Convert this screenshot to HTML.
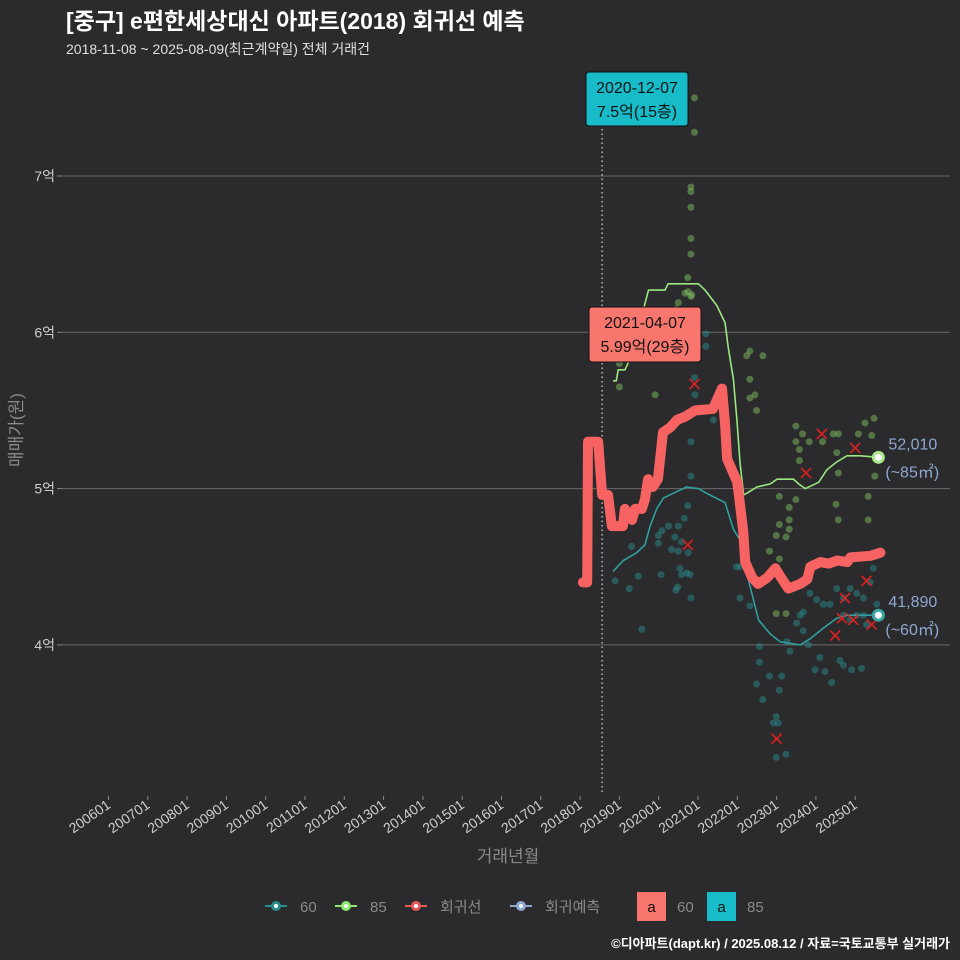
<!DOCTYPE html>
<html><head><meta charset="utf-8"><style>
html,body{margin:0;padding:0;background:#2b2a2c;}
svg{display:block;font-family:"Liberation Sans","Noto Sans CJK KR",sans-serif;}
</style></head><body>
<svg id="c" width="960" height="960" viewBox="0 0 960 960">
<rect x="0" y="0" width="960" height="960" fill="#2b2a2c"/>
<text x="66" y="29" fill="#ffffff" font-size="23" font-weight="bold">[중구] e편한세상대신 아파트(2018) 회귀선 예측</text>
<text x="66" y="54" fill="#e0e0e0" font-size="14">2018-11-08 ~ 2025-08-09(최근계약일) 전체 거래건</text>
<g id="grid"></g><g id="xaxis"></g><g id="series"></g><g id="ann"></g>
<text transform="translate(22,430) rotate(-90)" text-anchor="middle" fill="#8a8a8a" font-size="17">매매가(원)</text>
<text x="508" y="862" text-anchor="middle" fill="#8a8a8a" font-size="17">거래년월</text>
<g id="legend"></g>
<text x="950" y="948" text-anchor="end" fill="#ffffff" font-size="13" font-weight="bold">©디아파트(dapt.kr) / 2025.08.12 / 자료=국토교통부 실거래가</text>
</svg>
<script>
const yTicks=[4,5,6,7];
const xTickYears=[2006,2007,2008,2009,2010,2011,2012,2013,2014,2015,2016,2017,2018,2019,2020,2021,2022,2023,2024,2025];
const regLine=[[2018.07,4.40],[2018.18,4.40],[2018.20,5.30],[2018.46,5.30],[2018.56,4.96],[2018.71,4.96],[2018.81,4.76],[2019.09,4.76],[2019.14,4.87],[2019.32,4.80],[2019.40,4.87],[2019.57,4.87],[2019.65,4.93],[2019.73,5.06],[2019.85,5.01],[2019.98,5.06],[2020.11,5.36],[2020.29,5.39],[2020.47,5.44],[2020.67,5.46],[2020.92,5.50],[2021.38,5.51],[2021.61,5.64],[2021.69,5.41],[2021.74,5.19],[2022.00,5.04],[2022.15,4.73],[2022.20,4.53],[2022.38,4.43],[2022.53,4.39],[2022.76,4.43],[2022.97,4.49],[2023.09,4.44],[2023.30,4.36],[2023.60,4.39],[2023.78,4.42],[2023.86,4.50],[2024.11,4.53],[2024.32,4.52],[2024.55,4.54],[2024.80,4.53],[2024.88,4.56],[2025.39,4.57],[2025.64,4.59]];
const line85=[[2018.84,5.69],[2018.92,5.69],[2018.97,5.76],[2019.14,5.76],[2019.29,5.84],[2019.74,6.27],[2020.16,6.27],[2020.24,6.31],[2021.01,6.31],[2021.18,6.27],[2021.48,6.17],[2021.69,6.06],[2021.77,5.90],[2021.90,5.70],[2021.99,5.44],[2022.07,5.16],[2022.16,4.96],[2022.24,4.97],[2022.50,5.01],[2022.84,5.03],[2023.01,5.06],[2023.43,5.06],[2023.56,5.03],[2023.73,5.00],[2024.07,5.04],[2024.28,5.12],[2024.53,5.17],[2024.79,5.21],[2025.13,5.21],[2025.59,5.20]];
const line60=[[2018.84,4.47],[2019.10,4.54],[2019.44,4.59],[2019.65,4.64],[2019.78,4.76],[2019.95,4.87],[2020.12,4.94],[2020.37,4.97],[2020.71,5.01],[2021.01,5.00],[2021.22,4.97],[2021.69,4.91],[2021.90,4.74],[2022.07,4.67],[2022.20,4.50],[2022.37,4.33],[2022.54,4.16],[2022.84,4.07],[2023.09,4.02],[2023.60,4.00],[2023.86,4.04],[2024.20,4.11],[2024.53,4.17],[2024.79,4.19],[2025.59,4.19]];
const pts85=[[2020.91,7.50],[2020.91,7.28],[2020.82,6.93],[2020.82,6.90],[2020.82,6.80],[2020.82,6.60],[2020.82,6.50],[2020.74,6.35],[2020.75,6.26],[2020.67,6.25],[2020.84,6.24],[2020.82,6.23],[2020.50,6.19],[2020.44,6.15],[2019.00,5.80],[2019.00,5.65],[2019.91,5.60],[2022.24,5.85],[2022.32,5.88],[2022.65,5.85],[2022.32,5.70],[2022.32,5.58],[2022.45,5.60],[2022.49,5.50],[2023.49,5.40],[2023.66,5.35],[2023.49,5.30],[2023.58,5.25],[2023.83,5.30],[2023.58,5.18],[2024.17,5.30],[2024.44,5.35],[2024.57,5.35],[2025.08,5.35],[2025.25,5.42],[2025.48,5.45],[2025.42,5.34],[2024.53,5.23],[2024.57,5.10],[2025.50,5.08],[2025.33,4.95],[2023.07,4.95],[2023.49,4.93],[2023.32,4.88],[2024.51,4.90],[2024.57,4.80],[2025.33,4.80],[2023.07,4.77],[2023.32,4.80],[2022.99,4.70],[2023.24,4.69],[2023.32,4.74],[2022.82,4.60],[2023.07,4.55],[2022.99,4.20],[2023.24,4.20],[2022.09,4.76],[2022.11,4.74]];
const pts60=[[2020.82,5.30],[2020.82,5.08],[2020.74,4.89],[2020.65,4.81],[2020.50,4.76],[2020.25,4.76],[2020.08,4.73],[2019.99,4.70],[2020.41,4.69],[2019.99,4.65],[2020.58,4.66],[2020.33,4.61],[2020.50,4.60],[2020.75,4.59],[2019.31,4.63],[2018.89,4.41],[2019.25,4.36],[2019.48,4.44],[2019.57,4.10],[2020.06,4.45],[2020.54,4.49],[2020.71,4.46],[2020.58,4.45],[2020.80,4.45],[2020.48,4.37],[2020.44,4.35],[2020.82,4.30],[2021.20,5.91],[2021.20,5.99],[2020.91,5.71],[2020.92,5.60],[2021.39,5.44],[2021.98,4.50],[2022.07,4.50],[2022.07,4.30],[2022.32,4.25],[2022.56,3.99],[2022.56,3.89],[2022.82,3.80],[2022.49,3.75],[2022.65,3.65],[2023.07,3.71],[2023.13,3.80],[2022.99,3.54],[2022.92,3.50],[2023.04,3.50],[2022.99,3.28],[2023.24,3.30],[2023.34,3.96],[2023.26,4.02],[2023.51,4.14],[2023.60,4.19],[2023.68,4.21],[2023.85,4.33],[2024.02,4.29],[2024.19,4.26],[2024.36,4.26],[2024.53,4.36],[2024.70,4.30],[2024.87,4.36],[2025.04,4.33],[2025.21,4.30],[2025.38,4.40],[2025.46,4.49],[2025.55,4.26],[2025.04,4.19],[2025.21,4.19],[2025.29,4.13],[2024.87,4.16],[2024.70,4.19],[2024.10,3.92],[2024.23,3.83],[2024.40,3.76],[2024.61,3.90],[2024.70,3.87],[2024.91,3.84],[2025.16,3.85],[2023.98,3.84],[2023.81,4.00],[2023.68,4.09]];
const xMarks=[[2020.91,5.67],[2020.74,4.64],[2023.00,3.40],[2023.75,5.10],[2024.15,5.35],[2025.00,5.26],[2024.74,4.30],[2024.49,4.06],[2024.66,4.17],[2024.95,4.16],[2025.42,4.13],[2025.29,4.41]];
const endLabels=[["52,010","(~85㎡)",5.20,"#a6e88a"],["41,890","(~60㎡)",4.19,"#3aa7a7"]];
const refDate=2018.56;

const NS="http://www.w3.org/2000/svg";
const X=t=>108.5+(t-2006)*39.3;
const Y=v=>176+(7-v)*156.3;
function mk(tag,attrs,parent,txt){const e=document.createElementNS(NS,tag);for(const k in attrs)e.setAttribute(k,attrs[k]);if(txt!==undefined)e.textContent=txt;parent.appendChild(e);return e;}
const grid=document.getElementById('grid'),xa=document.getElementById('xaxis'),se=document.getElementById('series'),an=document.getElementById('ann'),lg=document.getElementById('legend');
yTicks.forEach(v=>{
 const l=mk('line',{x1:62,x2:950,y1:Y(v),y2:Y(v),stroke:'#6a6a6a','stroke-width':1},grid);
 
 
 mk('line',{x1:57,x2:62,y1:Y(v),y2:Y(v),stroke:'#8a8a8a'},grid);
 const t=mk('text',{x:55,y:Y(v)+5,'text-anchor':'end',fill:'#cfcfcf','font-size':14},grid,v+'억');
 
 
});
xTickYears.forEach(yr=>{
 const x=X(yr);
 mk('line',{x1:x,x2:x,y1:796,y2:800,stroke:'#8a8a8a'},xa);
 const t=mk('text',{transform:`translate(${x+3},${807}) rotate(-35)`,'text-anchor':'end',fill:'#cfcfcf','font-size':14},xa,String(yr)+'01');
 
 
});
const dl=mk('line',{x1:X(refDate),x2:X(refDate),y1:120,y2:795,stroke:'#cccccc','stroke-width':1.3,'stroke-dasharray':'1.5,3'},se);


const path=a=>a.map((p,i)=>(i?'L':'M')+X(p[0]).toFixed(1)+','+Y(p[1]).toFixed(1)).join('');
pts60.forEach(p=>{const c=mk('circle',{cx:X(p[0]),cy:Y(p[1]),r:3.5,fill:'#2a8c8c','fill-opacity':0.5},se);});
pts85.forEach(p=>{const c=mk('circle',{cx:X(p[0]),cy:Y(p[1]),r:3.5,fill:'#7fbf5f','fill-opacity':0.5},se);});
let p1=mk('path',{d:path(line60),fill:'none',stroke:'#2fa0a0','stroke-width':1.6},se);


let p2=mk('path',{d:path(line85),fill:'none',stroke:'#9be87f','stroke-width':1.6},se);


let p3=mk('path',{d:path(regLine),fill:'none',stroke:'#f76363','stroke-width':10,'stroke-linejoin':'round','stroke-linecap':'round'},se);


xMarks.forEach(p=>{const x=X(p[0]),y=Y(p[1]);const g=mk('path',{d:`M${x-5},${y-5}L${x+5},${y+5}M${x-5},${y+5}L${x+5},${y-5}`,stroke:'#e02020','stroke-width':1.6},se);});
const endX=2025.59;
endLabels.forEach(e=>{
 const x=X(endX),y=Y(e[2]);
 const c=mk('circle',{cx:x,cy:y,r:5,fill:'#ffffff',stroke:e[3],'stroke-width':3},an);
 
 
 const t1=mk('text',{x:x+10,y:y-8,fill:'#8fa8d0','font-size':16},an,e[0]);
 
 
 const t2=mk('text',{x:x+7,y:y+20,fill:'#8fa8d0','font-size':16},an,e[1]);
 
 
});
function box(x,y,w,h,fill,l1,l2,name){const g=mk('g',{},an);mk('rect',{x:x,y:y,width:w,height:h,rx:3,fill:fill,stroke:'#111','stroke-width':1},g);mk('text',{x:x+w/2,y:y+21,'text-anchor':'middle','font-size':16,fill:'#111'},g,l1);mk('text',{x:x+w/2,y:y+45,'text-anchor':'middle','font-size':16,fill:'#111'},g,l2);}
box(586,72,102,54,'#17bcc8','2020-12-07','7.5억(15층)','max-annotation');
box(589,307,112,55,'#f8766d','2021-04-07','5.99억(29층)','recent-annotation');
const leg=[['#2a8c8c','60',265],['#8fe870','85',335],['#e85a5a','회귀선',405],['#8fa8d0','회귀예측',510]];
leg.forEach(l=>{const lx=l[2];const g=mk('g',{},lg);mk('line',{x1:lx,x2:lx+22,y1:906,y2:906,stroke:l[0],'stroke-width':2},g);mk('circle',{cx:lx+11,cy:906,r:5,fill:l[0]},g);mk('circle',{cx:lx+11,cy:906,r:2,fill:'#fff'},g);mk('text',{x:lx+35,y:912,fill:'#8a8a8a','font-size':15},g,l[1]);});
[[637,'#f8766d','60'],[707,'#17bcc8','85']].forEach(b=>{const g=mk('g',{},lg);mk('rect',{x:b[0],y:892,width:29,height:29,fill:b[1]},g);mk('text',{x:b[0]+14.5,y:912,'text-anchor':'middle','font-size':15,fill:'#111'},g,'a');mk('text',{x:b[0]+40,y:912,fill:'#8a8a8a','font-size':15},g,b[2]);});
</script>
</body></html>
